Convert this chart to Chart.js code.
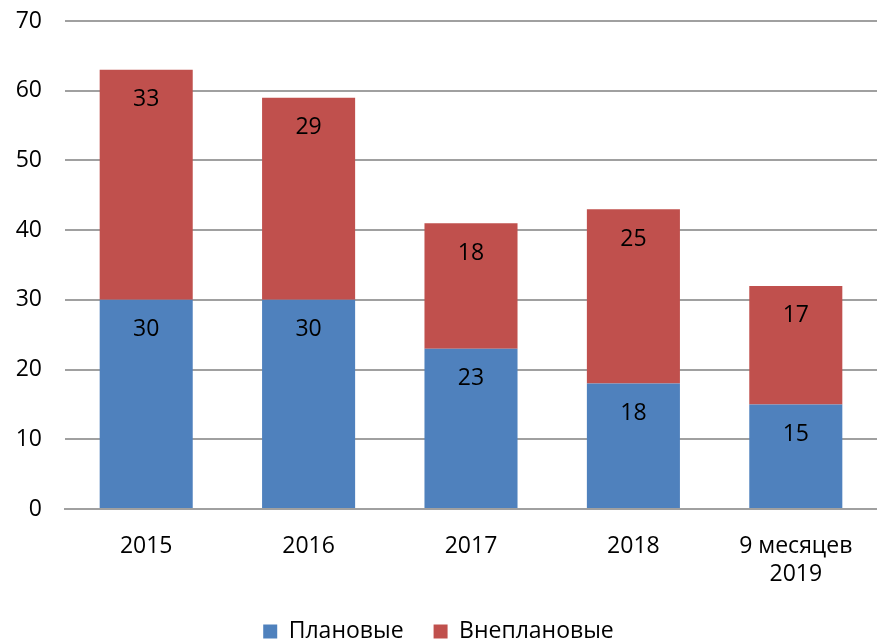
<!DOCTYPE html>
<html>
<head>
<meta charset="utf-8">
<script src="https://cdn.jsdelivr.net/npm/chart.js@4"></script>
<style>
  html, body { margin: 0; padding: 0; background: #fff; }
  #wrap { width: 877px; height: 642px; }
</style>
</head>
<body>
<div id="wrap"><canvas id="myChart" width="877" height="642"></canvas></div>
<script>
const years = ['2015', '2016', '2017', '2018', ['9 месяцев', '2019']];
const planned = [30, 30, 23, 18, 15];
const unplanned = [33, 29, 18, 25, 17];
const seriesNames = ['Плановые', 'Внеплановые'];

const fontFam = "'Open Sans', sans-serif";
const fs = 23;

// value labels in the middle of each bar piece
const barLabels = {
  id: 'barLabels',
  afterDatasetsDraw(chart) {
    const ctx = chart.ctx;
    ctx.save();
    ctx.font = fs + 'px ' + fontFam;
    ctx.fillStyle = '#000';
    ctx.textAlign = 'center';
    ctx.textBaseline = 'middle';
    chart.data.datasets.forEach((ds, i) => {
      chart.getDatasetMeta(i).data.forEach((bar, j) => {
        const top = Math.min(bar.y, bar.base);
        ctx.fillText(ds.data[j], bar.x, top + 30);
      });
    });
    ctx.restore();
  }
};

new Chart(document.getElementById('myChart'), {
  type: 'bar',
  data: {
    labels: years,
    datasets: [
      { label: seriesNames[0], data: planned, backgroundColor: '#4F81BD' },
      { label: seriesNames[1], data: unplanned, backgroundColor: '#C0504D' }
    ]
  },
  options: {
    responsive: false,
    animation: false,
    barPercentage: 0.573,
    categoryPercentage: 1,
    layout: { padding: { top: 21, right: 0, left: 0, bottom: -11 } },
    plugins: {
      legend: {
        position: 'bottom',
        labels: {
          font: { size: fs, family: fontFam },
          color: '#000',
          boxWidth: 14,
          boxHeight: 14,
          padding: 30
        }
      },
      tooltip: { enabled: false }
    },
    scales: {
      x: {
        stacked: true,
        grid: { display: false },
        border: { color: '#a0a0a0', width: 2 },
        ticks: { font: { size: fs, family: fontFam }, color: '#000', padding: 16, maxRotation: 0 },
        afterFit(s) { s.height = 81; }
      },
      y: {
        stacked: true,
        min: 0,
        max: 70,
        grid: { color: '#a0a0a0', lineWidth: 2, drawTicks: false },
        border: { display: false },
        ticks: { stepSize: 10, font: { size: fs, family: fontFam }, color: '#000', padding: 23 },
        afterFit(s) { s.width = 65; s.paddingTop = 0; s.paddingBottom = 0; }
      }
    }
  },
  plugins: [barLabels]
});
</script>
</body>
</html>
